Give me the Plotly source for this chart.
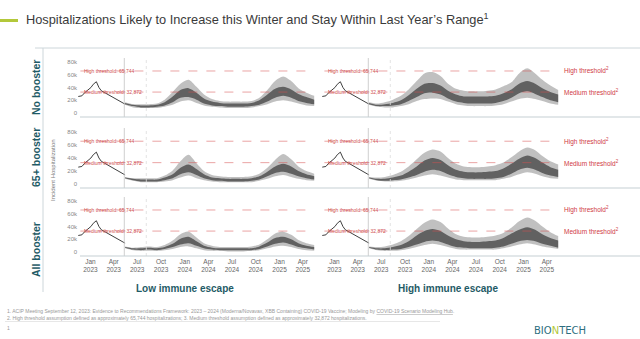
import plotly.graph_objects as go

# ---------------- data (values in thousands) ----------------
months = ['2023-05-15', '2023-06-15', '2023-07-15', '2023-08-15', '2023-09-15', '2023-10-15',
          '2023-11-15', '2023-12-15', '2024-01-15', '2024-02-15', '2024-03-15', '2024-04-15',
          '2024-05-15', '2024-06-15', '2024-07-15', '2024-08-15', '2024-09-15', '2024-10-15',
          '2024-11-15', '2024-12-15', '2025-01-15', '2025-02-15', '2025-03-15', '2025-04-15',
          '2025-05-15']

obs_dates = ['2022-11-15', '2022-11-29', '2022-12-10', '2022-12-24', '2023-01-03', '2023-01-12',
             '2023-01-24', '2023-02-03', '2023-02-12', '2023-02-25', '2023-03-10', '2023-03-25',
             '2023-04-10', '2023-04-25', '2023-05-15']
obs_vals = [26, 27, 32, 36, 40, 45, 49, 40, 35, 32, 29, 25, 22, 18, 14]

# Low immune escape
nob_low_q05 = [13, 9, 8, 8, 8, 10, 13, 18, 20, 16, 12, 10, 9, 8, 8, 8, 9, 11, 14, 18, 20, 18, 15, 12, 11]
nob_low_q25 = [14, 11, 9, 9, 10, 12, 17, 24, 25, 21, 15, 12, 11, 10, 10, 10, 11, 13, 18, 24, 27, 24, 19, 16, 14]
nob_low_q75 = [16, 13, 12, 12, 13, 17, 26, 36, 39, 32, 23, 18, 16, 15, 15, 15, 16, 20, 29, 38, 41, 37, 30, 25, 21]
nob_low_q95 = [17, 14, 14, 14, 15, 21, 33, 46, 52, 41, 29, 22, 19, 18, 18, 18, 19, 24, 36, 50, 57, 50, 39, 32, 27]

b65_low_q05 = [8, 5, 3, 3, 3, 4, 6, 10, 13, 9, 6, 4, 3, 3, 3, 3, 3, 5, 8, 12, 14, 11, 8, 6, 5]
b65_low_q25 = [9, 6, 4, 4, 4, 6, 9, 15, 18, 14, 9, 6, 5, 4, 4, 4, 5, 7, 12, 17, 19, 16, 12, 9, 7]
b65_low_q75 = [10, 8, 7, 7, 7, 10, 15, 25, 30, 23, 15, 10, 9, 8, 8, 8, 9, 12, 19, 27, 31, 27, 20, 15, 12]
b65_low_q95 = [11, 9, 9, 9, 9, 13, 21, 35, 45, 32, 20, 14, 12, 11, 11, 11, 12, 16, 25, 37, 46, 38, 27, 20, 16]

all_low_q05 = [6, 3, 2, 2, 2, 3, 5, 8, 9, 6, 3, 2, 2, 1, 1, 1, 2, 3, 6, 9, 10, 8, 5, 3, 2]
all_low_q25 = [7, 4, 3, 4, 3, 5, 8, 12, 14, 10, 6, 4, 3, 3, 3, 3, 3, 5, 9, 13, 15, 12, 8, 6, 4]
all_low_q75 = [8, 6, 6, 7, 6, 8, 13, 21, 24, 17, 10, 7, 6, 6, 6, 6, 6, 9, 15, 22, 24, 20, 14, 10, 8]
all_low_q95 = [9, 7, 8, 9, 8, 11, 18, 28, 32, 23, 14, 10, 8, 8, 8, 8, 9, 12, 20, 29, 32, 27, 19, 14, 11]

# High immune escape
nob_high_q05 = [13, 10, 9, 9, 11, 14, 19, 22, 23, 22, 18, 14, 12, 11, 11, 11, 12, 14, 18, 22, 24, 22, 19, 15, 13]
nob_high_q25 = [14, 11, 11, 12, 14, 19, 25, 31, 32, 29, 23, 18, 16, 15, 15, 15, 16, 19, 24, 31, 34, 30, 25, 20, 17]
nob_high_q75 = [16, 13, 14, 16, 20, 28, 38, 46, 47, 43, 35, 29, 26, 26, 26, 26, 27, 31, 37, 46, 50, 46, 39, 33, 29]
nob_high_q95 = [17, 15, 17, 21, 27, 37, 50, 62, 64, 58, 46, 38, 35, 34, 34, 35, 37, 42, 48, 62, 70, 62, 52, 43, 36]

b65_high_q05 = [8, 5, 4, 4, 5, 7, 10, 13, 15, 13, 10, 7, 6, 6, 6, 6, 6, 8, 11, 15, 18, 16, 12, 9, 8]
b65_high_q25 = [9, 6, 5, 6, 7, 10, 14, 19, 22, 20, 15, 11, 9, 8, 8, 8, 9, 11, 16, 22, 25, 22, 17, 13, 11]
b65_high_q75 = [10, 8, 8, 10, 13, 19, 27, 36, 40, 37, 29, 22, 19, 18, 18, 19, 20, 24, 31, 39, 44, 40, 33, 26, 22]
b65_high_q95 = [11, 10, 11, 14, 19, 27, 38, 48, 53, 50, 40, 31, 27, 26, 26, 27, 29, 33, 41, 50, 56, 52, 43, 35, 30]

all_high_q05 = [6, 3, 2, 2, 3, 5, 8, 11, 13, 11, 8, 5, 4, 4, 4, 4, 4, 6, 9, 12, 14, 12, 9, 7, 5]
all_high_q25 = [7, 4, 3, 4, 5, 8, 12, 16, 18, 16, 12, 8, 7, 6, 6, 6, 7, 9, 13, 17, 19, 17, 13, 10, 7]
all_high_q75 = [8, 6, 6, 8, 11, 17, 26, 33, 36, 33, 26, 20, 17, 16, 16, 17, 18, 22, 29, 35, 39, 35, 28, 22, 18]
all_high_q95 = [9, 8, 9, 12, 17, 25, 36, 46, 51, 47, 37, 28, 24, 23, 23, 24, 26, 30, 38, 48, 54, 49, 40, 31, 25]

high_threshold = 65744
medium_threshold = 32872

row_labels = ['No booster', '65+ booster', 'All booster']
col_labels = ['Low immune escape', 'High immune escape']
tick_dates = ['2023-01-01', '2023-04-01', '2023-07-01', '2023-10-01', '2024-01-01', '2024-04-01',
              '2024-07-01', '2024-10-01', '2025-01-01', '2025-04-01']
tick_text = ['Jan<br>2023', 'Apr<br>2023', 'Jul<br>2023', 'Oct<br>2023', 'Jan<br>2024', 'Apr<br>2024',
             'Jul<br>2024', 'Oct<br>2024', 'Jan<br>2025', 'Apr<br>2025']
y_tick_vals = [0, 20000, 40000, 60000, 80000]
y_tick_text = ['0', '20k', '40k', '60k', '80k']
projection_start = '2023-05-12'
marker_date = '2023-08-05'

bands = {
    (0, 0): (nob_low_q05, nob_low_q25, nob_low_q75, nob_low_q95),
    (1, 0): (b65_low_q05, b65_low_q25, b65_low_q75, b65_low_q95),
    (2, 0): (all_low_q05, all_low_q25, all_low_q75, all_low_q95),
    (0, 1): (nob_high_q05, nob_high_q25, nob_high_q75, nob_high_q95),
    (1, 1): (b65_high_q05, b65_high_q25, b65_high_q75, b65_high_q95),
    (2, 1): (all_high_q05, all_high_q25, all_high_q75, all_high_q95),
}

# ---------------- layout helpers ----------------
W, H = 640, 339
def fx(p): return p / W
def fy(p): return 1 - p / H

col_dom = [(78, 316), (322, 560)]
row_dom = [(58, 117), (128, 188), (197, 256)]
x_range = ['2022-11-14', '2025-05-22']
y_range = [-6000, 86000]

FONT = 'Liberation Sans, Arial, sans-serif'
TEAL = '#1f5b66'
RED = '#cf3a44'

fig = go.Figure()
layout = dict(width=W, height=H, margin=dict(l=0, r=0, t=0, b=0),
              paper_bgcolor='white', plot_bgcolor='white', showlegend=False,
              font=dict(family=FONT, color='#666'))
shapes = []
annotations = []

def k(lst):
    return [v * 1000 for v in lst]

for r in range(3):
    for c in range(2):
        idx = r * 2 + c + 1
        xa = 'x' if idx == 1 else f'x{idx}'
        ya = 'y' if idx == 1 else f'y{idx}'
        q05, q25, q75, q95 = bands[(r, c)]
        common = dict(x=months, mode='lines', line=dict(width=0, shape='spline', smoothing=0.8),
                      xaxis=xa, yaxis=ya, hoverinfo='skip')
        fig.add_trace(go.Scatter(y=k(q95), **common))
        fig.add_trace(go.Scatter(y=k(q05), fill='tonexty', fillcolor='rgba(140,140,140,0.55)', **common))
        fig.add_trace(go.Scatter(y=k(q75), **common))
        fig.add_trace(go.Scatter(y=k(q25), fill='tonexty', fillcolor='rgba(80,80,80,0.85)', **common))
        fig.add_trace(go.Scatter(x=obs_dates, y=k(obs_vals), mode='lines',
                                 line=dict(color='#2a2a2a', width=0.9), xaxis=xa, yaxis=ya, hoverinfo='skip'))

        xd = [fx(col_dom[c][0]), fx(col_dom[c][1])]
        yd = [fy(row_dom[r][1]), fy(row_dom[r][0])]
        xkey = 'xaxis' if idx == 1 else f'xaxis{idx}'
        ykey = 'yaxis' if idx == 1 else f'yaxis{idx}'
        layout[xkey] = dict(domain=xd, anchor=ya, range=x_range, type='date',
                            showgrid=False, zeroline=False, showline=False,
                            tickvals=tick_dates, ticktext=tick_text,
                            showticklabels=(r == 2), ticks='',
                            tickfont=dict(size=6.5, color='#666', family=FONT))
        layout[ykey] = dict(domain=yd, anchor=xa, range=y_range, showgrid=False,
                            zeroline=False, showline=False, tickvals=y_tick_vals,
                            ticktext=y_tick_text, showticklabels=(c == 0), ticks='',
                            tickfont=dict(size=6, color='#888', family=FONT))

        shapes.append(dict(type='line', xref=xa, yref=f'{ya} domain', x0=projection_start,
                           x1=projection_start, y0=0, y1=1, line=dict(color='#c4c4c4', width=0.8)))
        shapes.append(dict(type='line', xref=xa, yref=f'{ya} domain', x0=marker_date,
                           x1=marker_date, y0=0, y1=1, line=dict(color='#dcdcdc', width=0.8, dash='dot')))
        for thr, lab in [(high_threshold, 'High threshold: 65,744'),
                         (medium_threshold, 'Medium threshold: 32,872')]:
            shapes.append(dict(type='line', xref=f'{xa} domain', yref=ya, x0=0.01, x1=0.99,
                               y0=thr, y1=thr, line=dict(color='rgba(215,80,80,0.75)', width=0.7, dash='dash')))
            annotations.append(dict(xref=f'{xa} domain', yref=ya, x=0.015, y=thr, text=lab,
                                    showarrow=False, xanchor='left', yanchor='middle',
                                    font=dict(size=5, color='#d05050', family=FONT)))
        if c == 1:
            for thr, lab in [(high_threshold, 'High threshold<sup>2</sup>'),
                             (medium_threshold, 'Medium threshold<sup>2</sup>')]:
                annotations.append(dict(xref='paper', yref=ya, x=fx(562), y=thr, text=lab,
                                        showarrow=False, xanchor='left', yanchor='middle',
                                        font=dict(size=6.5, color=RED, family=FONT)))

for yline in [117, 188, 256]:
    shapes.append(dict(type='line', xref='paper', yref='paper', x0=fx(80), x1=1,
                       y0=fy(yline), y1=fy(yline), line=dict(color='#c5cfd3', width=1)))
shapes.append(dict(type='line', xref='paper', yref='paper', x0=fx(35), x1=1,
                   y0=fy(48), y1=fy(48), line=dict(color='#cdd6da', width=1)))
shapes.append(dict(type='line', xref='paper', yref='paper', x0=fx(43), x1=fx(43),
                   y0=fy(48), y1=fy(292), line=dict(color='#cdd6da', width=1)))
shapes.append(dict(type='rect', xref='paper', yref='paper', x0=0, x1=fx(18),
                   y0=fy(22), y1=fy(19), line=dict(width=0), fillcolor='#b3c83a'))
shapes.append(dict(type='line', xref='paper', yref='paper', x0=fx(5), x1=fx(440),
                   y0=fy(321.5), y1=fy(321.5), line=dict(color='#d6d6d6', width=0.6)))

annotations.append(dict(xref='paper', yref='paper', x=fx(24), y=fy(19),
                        text="Hospitalizations Likely to Increase this Winter and Stay Within Last Year\u2019s Range<sup>1</sup>",
                        showarrow=False, xanchor='left', yanchor='middle',
                        font=dict(size=12.8, color='#3a3a3a', family=FONT)))
row_centers = [88, 158, 250]
for lab, yc in zip(row_labels, row_centers):
    annotations.append(dict(xref='paper', yref='paper', x=fx(36), y=fy(yc), text=f'<b>{lab}</b>',
                            showarrow=False, textangle=-90, xanchor='center', yanchor='middle',
                            font=dict(size=10.5, color=TEAL, family=FONT)))
annotations.append(dict(xref='paper', yref='paper', x=fx(53), y=fy(170), text='Incident Hospitalization',
                        showarrow=False, textangle=-90, xanchor='center', yanchor='middle',
                        font=dict(size=6, color='#777', family=FONT)))
for lab, xc in zip(col_labels, [185, 448]):
    annotations.append(dict(xref='paper', yref='paper', x=fx(xc), y=fy(288), text=f'<b>{lab}</b>',
                            showarrow=False, xanchor='center', yanchor='middle',
                            font=dict(size=10, color=TEAL, family=FONT)))
annotations.append(dict(xref='paper', yref='paper', x=fx(5), y=fy(311),
                        text='1. ACIP Meeting September 12, 2023: Evidence to Recommendations Framework: 2023 \u2013 2024 (Moderna/Novavax, XBB Containing) COVID-19 Vaccine; Modeling by <u>COVID-19 Scenario Modeling Hub</u>.',
                        showarrow=False, xanchor='left', yanchor='middle',
                        font=dict(size=5, color='#999', family=FONT)))
annotations.append(dict(xref='paper', yref='paper', x=fx(5), y=fy(317.5),
                        text='2. High threshold assumption defined as approximately 65,744 hospitalizations; 3. Medium threshold assumption defined as approximately 32,872 hospitalizations.',
                        showarrow=False, xanchor='left', yanchor='middle',
                        font=dict(size=5, color='#999', family=FONT)))
annotations.append(dict(xref='paper', yref='paper', x=fx(5), y=fy(328), text='1',
                        showarrow=False, xanchor='left', yanchor='middle',
                        font=dict(size=5, color='#999', family=FONT)))
annotations.append(dict(xref='paper', yref='paper', x=fx(560), y=fy(330),
                        text='BIO<span style="color:#b3c83a">N</span>TECH',
                        showarrow=False, xanchor='center', yanchor='middle',
                        font=dict(size=10, color='#2e6e80', family='DejaVu Sans, sans-serif')))

layout['shapes'] = shapes
layout['annotations'] = annotations
fig.update_layout(**layout)
fig.write_html('out.html')
